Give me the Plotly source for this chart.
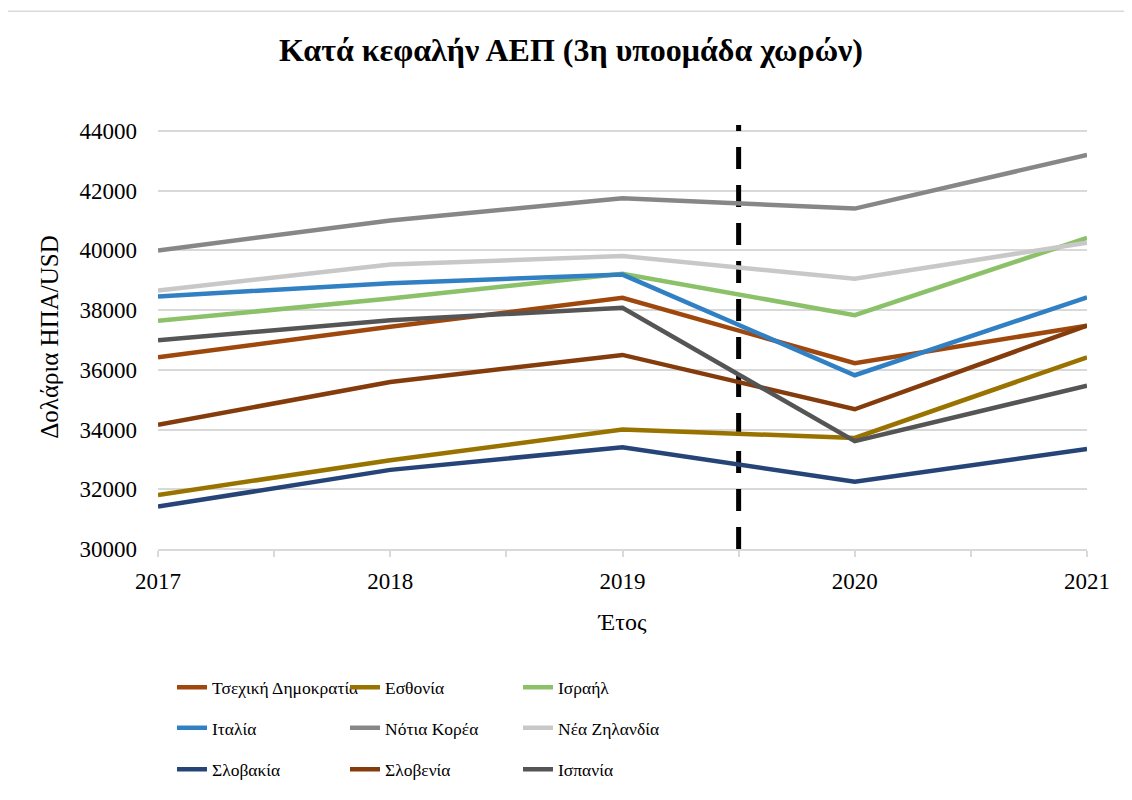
import plotly.graph_objects as go

years = [2017, 2018, 2019, 2020, 2021]
countries = ["Τσεχική Δημοκρατία", "Εσθονία", "Ισραήλ",
             "Ιταλία", "Νότια Κορέα", "Νέα Ζηλανδία",
             "Σλοβακία", "Σλοβενία", "Ισπανία"]

czech = [36420, 37440, 38410, 36220, 37480]
estonia = [31810, 32970, 34000, 33720, 36420]
israel = [37640, 38390, 39220, 37830, 40420]
italy = [38460, 38900, 39190, 35820, 38430]
korea = [40000, 41000, 41750, 41400, 43200]
new_zealand = [38660, 39530, 39810, 39050, 40260]
slovakia = [31420, 32650, 33410, 32250, 33350]
slovenia = [34160, 35590, 36500, 34680, 37480]
spain = [36995, 37660, 38080, 33610, 35470]

series = [czech, estonia, israel, italy, korea, new_zealand, slovakia, slovenia, spain]
colors = ["#9E480E", "#997300", "#8BC168", "#3280C4", "#878787",
          "#C8C8C8", "#264478", "#843C0C", "#555555"]

marker_x = [2019.5, 2019.5]
marker_y = [30000, 44200]

y_ticks = [30000, 32000, 34000, 36000, 38000, 40000, 42000, 44000]

FONT = "Liberation Serif"

fig = go.Figure()

# dashed separator
fig.add_trace(go.Scatter(x=marker_x, y=marker_y, mode="lines",
                         line=dict(color="black", width=5, dash="22px,16px"),
                         showlegend=False, hoverinfo="skip"))

legend_names = ["legend", "legend", "legend", "legend2", "legend2", "legend2",
                "legend3", "legend3", "legend3"]
for name, vals, col, lg in zip(countries, series, colors, legend_names):
    fig.add_trace(go.Scatter(x=years, y=vals, mode="lines", name=name,
                             line=dict(color=col, width=4.5), legend=lg))

OFF = 8  # page body margin
W, H = 1132 - OFF, 800 - OFF
L, T = 158 - OFF, 125 - OFF
R = W - (1087 - OFF)
B = H - (554 - OFF)
pw, ph = W - L - R, H - T - B

def px_x(x):
    x = x - OFF
    return (x - L) / pw

def px_y(y):
    y = y - OFF
    return (H - B - y) / ph

leg_common = dict(orientation="h", xanchor="left", yanchor="middle",
                  font=dict(family=FONT, size=17.5, color="black"),
                  entrywidth=128, entrywidthmode="pixels",
                  itemwidth=30, bgcolor="rgba(0,0,0,0)", borderwidth=0,
                  tracegroupgap=0)

fig.update_layout(
    width=W, height=H,
    margin=dict(l=L, r=R, t=T, b=B),
    paper_bgcolor="white", plot_bgcolor="white",
    font=dict(family=FONT, color="black"),
    title=dict(text="<b>Κατά κεφαλήν ΑΕΠ (3η υποομάδα χωρών)</b>",
               x=px_x(571), xref="paper", xanchor="center",
               y=1 - (50 - OFF) / H, yanchor="middle",
               font=dict(family=FONT, size=32, color="black")),
    xaxis=dict(range=[2017, 2021], tickvals=years, ticktext=[str(y) for y in years],
               showgrid=False, zeroline=False,
               showline=True, linecolor="#D9D9D9", linewidth=1.5,
               ticks="outside", ticklen=6, tickcolor="#D9D9D9", tickwidth=1.5,
               minor=dict(dtick=0.5, tick0=2017, ticks="outside", ticklen=6,
                          tickcolor="#D9D9D9", tickwidth=1.5, showgrid=False),
               ticklabelstandoff=5,
               tickfont=dict(family=FONT, size=23, color="black"),
               title=dict(text="Έτος", font=dict(family=FONT, size=24, color="black"),
                          standoff=20)),
    yaxis=dict(range=[30000, 44200], tickvals=y_ticks,
               ticktext=[str(v) for v in y_ticks],
               showgrid=True, gridcolor="#D9D9D9", gridwidth=1.5,
               zeroline=False, showline=False, ticks="",
               ticklabelstandoff=20,
               tickfont=dict(family=FONT, size=23, color="black"),
               title=dict(text="Δολάρια ΗΠΑ/USD",
                          font=dict(family=FONT, size=25, color="black"),
                          standoff=13)),
    legend=dict(x=px_x(172), y=px_y(694), **leg_common),
    legend2=dict(x=px_x(172), y=px_y(735), **leg_common),
    legend3=dict(x=px_x(172), y=px_y(777), **leg_common),
    shapes=[dict(type="rect", xref="paper", yref="paper",
                 x0=px_x(5), x1=px_x(1131), y0=px_y(820), y1=px_y(10),
                 line=dict(color="#D9D9D9", width=1.5), fillcolor="rgba(0,0,0,0)",
                 layer="below")],
    showlegend=True,
)

fig.write_html("out.html")
